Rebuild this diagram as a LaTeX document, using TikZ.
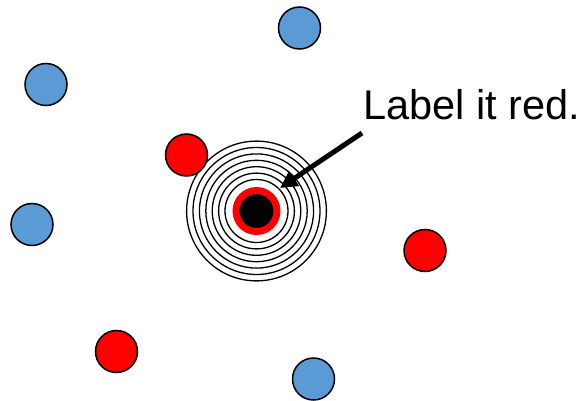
\documentclass[tikz,border=0pt]{standalone}
\usepackage{fontspec}
\setmainfont{Liberation Sans}
\usetikzlibrary{arrows.meta}
\definecolor{pointblue}{RGB}{91,155,213}
\definecolor{pointred}{RGB}{255,0,0}

\begin{document}
\begin{tikzpicture}[
    x=1pt, y=-1pt,
    dot/.style={circle, draw=black, line width=1.5pt, minimum size=42pt, inner sep=0pt},
    bluedot/.style={dot, fill=pointblue},
    reddot/.style={dot, fill=pointred},
    query/.style={circle, fill=black, draw=pointred, line width=7pt, minimum size=41pt, inner sep=0pt},
    ring/.style={draw=black, line width=1.3pt},
    pointer/.style={-{Triangle[length=17pt,width=17pt]}, line width=5pt}
  ]
    \useasboundingbox (0,0) rectangle (583,401);

    % the unlabelled point and its search rings
    \node[query] (query) at (256.5,211) {};
    \foreach \r in {31.5,37.9,...,71} {
      \draw[ring] (query.center) circle (\r);
    }

    % labelled neighbours
    \node[bluedot] (blueA) at (299.5,28) {};
    \node[bluedot] (blueB) at (46,84.5) {};
    \node[bluedot] (blueC) at (32,224.5) {};
    \node[bluedot] (blueD) at (313.5,379) {};
    \node[reddot] (redA) at (186.5,155) {};
    \node[reddot] (redB) at (425,250.5) {};
    \node[reddot] (redC) at (116.5,351.5) {};

    % caption and arrow
    \node[anchor=base west, inner sep=0pt, font=\fontsize{41.5}{50}\selectfont]
      (caption) at (363,120) {Label it red.};
    \coordinate (tail) at (362,133);
    \coordinate (tip) at (280,188);
    \draw[pointer] (tail) -- (tip);
\end{tikzpicture}
\end{document}
